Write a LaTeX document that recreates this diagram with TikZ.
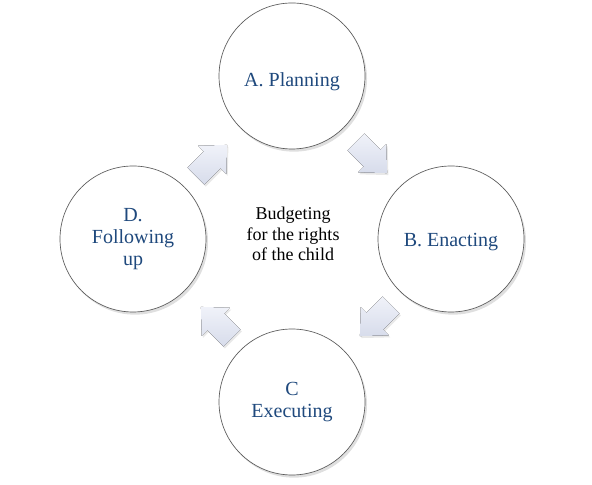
\documentclass[tikz,border=0pt]{standalone}
\usepackage{fontspec}
\setmainfont{Liberation Serif}
\usetikzlibrary{shadows,calc}

\definecolor{etiqazul}{HTML}{1F497D}
\definecolor{flechaclara}{HTML}{F0F2F9}
\definecolor{flechaoscura}{HTML}{D7DCEB}

\begin{document}
\begin{tikzpicture}[
    x=0.75pt, y=0.75pt,
    % Estilos de los nodos
    etapa/.style={circle, draw=black!65, line width=0.5pt, fill=white,
        minimum size=109.5pt, inner sep=0pt, align=center, text=etiqazul,
        font=\fontsize{15}{16.5}\selectfont,
        drop shadow={shadow xshift=1.5pt, shadow yshift=-2pt, opacity=0.18, fill=black!70}},
    centro/.style={align=center, font=\fontsize{13.5}{15.5}\selectfont},
    % Estilo de las flechas del ciclo
    flecha/.style={top color=flechaclara, bottom color=flechaoscura,
        drop shadow={shadow xshift=1pt, shadow yshift=-1.5pt, opacity=0.15, fill=black!60}}
]

% ==========================================
% MACROS
% ==========================================
% #1 posicion, #2 angulo
\newcommand{\flechaciclo}[2]{
    \fill[flecha, shift={(#1)}, rotate=#2]
        (-22,-12) -- (1,-12) -- (1,-20) -- (22,0) -- (1,20) -- (1,12) -- (-22,12) -- cycle;
}
% Bajar un poco el texto dentro del circulo
\newcommand{\bajar}[2]{\raisebox{-#1}[\height][\depth]{#2}}

\useasboundingbox (0,0) rectangle (592,485);

% ==========================================
% ETAPAS DEL CICLO
% ==========================================
\node[etapa] (planning) at (292,409) {\bajar{4pt}{A. Planning}};
\node[etapa] (enacting) at (451,246) {\bajar{2.5pt}{B. Enacting}};
\node[etapa] (executing) at (292,83) {C\\Executing};
\node[etapa] (followup) at (133,246) {D.\\Following\\up};

% Texto central
\node[centro] (budget) at (293,251) {Budgeting\\for the rights\\of the child};

% ==========================================
% FLECHAS ENTRE ETAPAS
% ==========================================
\flechaciclo{$(planning)!0.5!(enacting)$}{-45}
\flechaciclo{$(enacting)!0.5!(executing)+(4,0)$}{-135}
\flechaciclo{$(executing)!0.5!(followup)+(4,-2)$}{135}
\flechaciclo{$(followup)!0.5!(planning)+(-1,-3)$}{45}

\end{tikzpicture}
\end{document}
